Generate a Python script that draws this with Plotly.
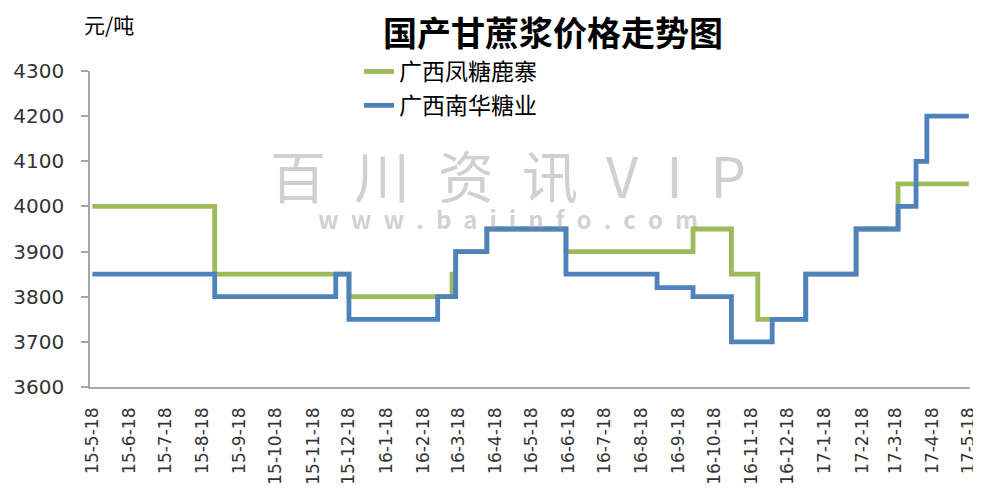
import plotly.graph_objects as go

# ---- data ----
tick_labels = ["15-5-18", "15-6-18", "15-7-18", "15-8-18", "15-9-18", "15-10-18", "15-11-18",
               "15-12-18", "16-1-18", "16-2-18", "16-3-18", "16-4-18", "16-5-18", "16-6-18",
               "16-7-18", "16-8-18", "16-9-18", "16-10-18", "16-11-18", "16-12-18", "17-1-18",
               "17-2-18", "17-3-18", "17-4-18", "17-5-18"]

fengtang_dates = ["2015-05-18", "2015-08-28", "2015-12-18", "2016-03-13", "2016-03-16",
                  "2016-04-11", "2016-06-16", "2016-09-30", "2016-11-01", "2016-11-23",
                  "2017-01-02", "2017-02-13", "2017-03-20", "2017-05-18"]
fengtang_values = [4000, 3850, 3800, 3850, 3900, 3950, 3900, 3950, 3850, 3750,
                   3850, 3950, 4050, 4050]

nanhua_dates = ["2015-05-18", "2015-08-28", "2015-12-07", "2015-12-18", "2016-03-01",
                "2016-03-16", "2016-04-11", "2016-06-16", "2016-08-31", "2016-09-30",
                "2016-11-01", "2016-12-05", "2017-01-02", "2017-02-13", "2017-03-20",
                "2017-04-04", "2017-04-13", "2017-05-18"]
nanhua_values = [3850, 3800, 3850, 3750, 3800, 3900, 3950, 3850, 3820, 3800,
                 3700, 3750, 3850, 3950, 4000, 4100, 4200, 4200]

series_names = ["广西凤糖鹿寨", "广西南华糖业"]
series_colors = ["#9BBB59", "#4F81BD"]


def label_to_date(lbl):
    y, m, d = lbl.split("-")
    return f"20{y}-{int(m):02d}-{int(d):02d}"


tick_vals = [label_to_date(t) for t in tick_labels]

fig = go.Figure()
fig.add_trace(go.Scatter(x=fengtang_dates, y=fengtang_values, mode="lines", line_shape="hv",
                         name=series_names[0], legendgroup="a",
                         line=dict(color=series_colors[0], width=4.8)))
fig.add_trace(go.Scatter(x=nanhua_dates, y=nanhua_values, mode="lines", line_shape="hv",
                         name=series_names[1], legendgroup="b",
                         line=dict(color=series_colors[1], width=4.8)))

# the page body adds an 8px offset, so the figure is laid out 8px smaller
OFF = 8
W, H = 981 - OFF, 488 - OFF
L, R, T, B = 90 - OFF, 11, 71 - OFF, 101
PW, PH = W - L - R, H - T - B


def px(x):
    return (x - OFF - L) / PW


def py(y):
    return 1 - (y - OFF - T) / PH


axis_color = "#a6a6a6"
fig.update_layout(
    width=W, height=H,
    margin=dict(l=L, r=R, t=T, b=B, autoexpand=False),
    paper_bgcolor="white", plot_bgcolor="white",
    font=dict(family="DejaVu Sans", color="#333333"),
    showlegend=True,
    legend=dict(x=px(359), y=py(50), xanchor="left", yanchor="top",
                font=dict(size=23, family="Noto Sans CJK SC", color="#000000"),
                bgcolor="rgba(0,0,0,0)", tracegroupgap=1, itemwidth=30),
    xaxis=dict(type="date", range=["2015-05-16", "2017-05-19"], automargin=False,
               tickmode="array", tickvals=tick_vals, ticktext=tick_labels,
               tickangle=-90, tickfont=dict(size=17, family="DejaVu Sans", color="#333333"),
               showline=True, linecolor=axis_color, linewidth=1.5,
               ticks="", showgrid=False, zeroline=False, ticklabelstandoff=12),
    yaxis=dict(range=[3600, 4300], tickmode="linear", tick0=3600, dtick=100, automargin=False,
               tickfont=dict(size=20, family="DejaVu Sans", color="#333333"),
               showline=True, linecolor=axis_color, linewidth=1.5,
               ticks="outside", ticklen=7, tickcolor=axis_color, tickwidth=1.5,
               showgrid=False, zeroline=False, ticklabelstandoff=13),
)

# title and unit
fig.add_annotation(text="<b>国产甘蔗浆价格走势图</b>", xref="paper", yref="paper",
                   x=px(553), y=py(31), xanchor="center", yanchor="middle",
                   showarrow=False, font=dict(size=34, family="Noto Sans CJK SC", color="#000000"))
fig.add_annotation(text="元/吨", xref="paper", yref="paper",
                   x=px(82), y=py(24), xanchor="left", yanchor="middle",
                   showarrow=False, font=dict(size=21, family="Noto Sans CJK SC", color="#000000"))

# watermark (one text block, two lines)
sp = "\u2002"
wm_big = sp.join(list("百川资讯VIP"))
wm_small = sp.join(list("www.baiinfo.com"))
fig.add_annotation(text=f"<span style='font-size:56px'>{wm_big}</span><br><b>{wm_small}</b>",
                   xref="paper", yref="paper",
                   x=px(508), y=py(185), xanchor="center", yanchor="middle", align="center",
                   showarrow=False, font=dict(size=24, family="Noto Sans CJK SC",
                                              color="rgba(150,150,150,0.45)"))

fig.write_html("out.html")
